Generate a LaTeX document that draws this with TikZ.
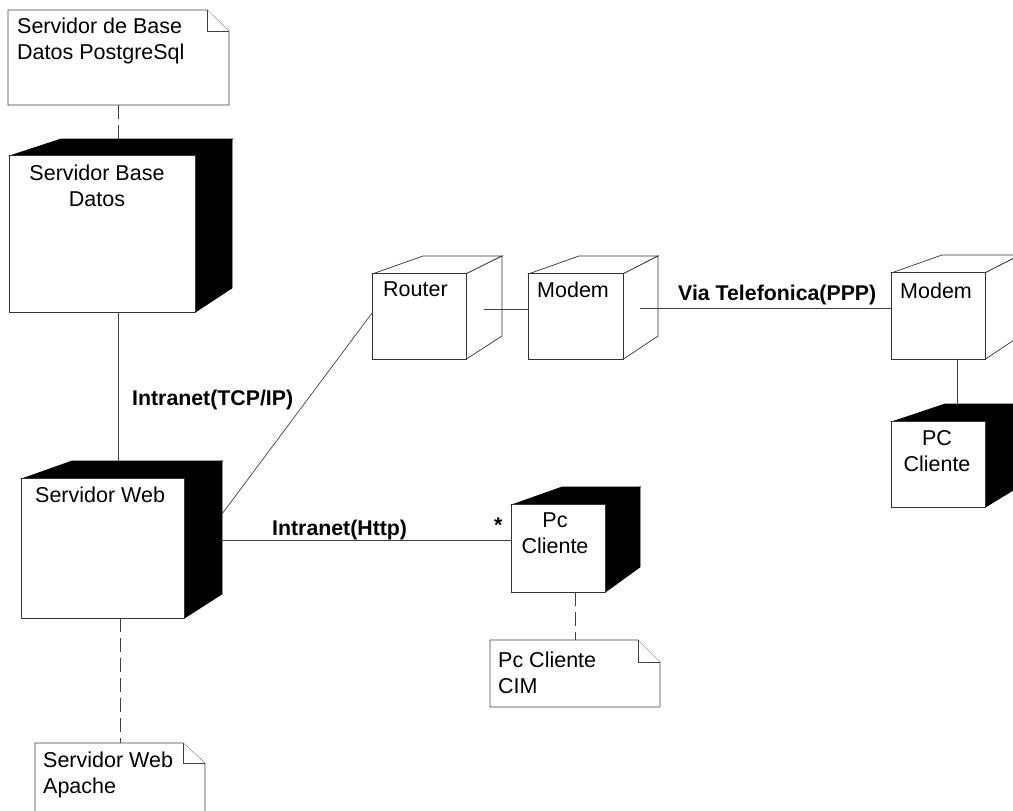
\documentclass[tikz,border=0pt]{standalone}
\usepackage{fontspec}
\setmainfont{Liberation Sans}
\usetikzlibrary{fit,calc}
\tikzset{
  link/.style={draw=black!75, line width=0.7pt},
  notelink/.style={link, dash pattern=on 14pt off 6pt},
  txt/.style={inner sep=0pt, font=\fontsize{21.5}{26}\selectfont, align=left, anchor=north west},
  ctxt/.style={inner sep=0pt, font=\fontsize{21.5}{26}\selectfont, align=center, anchor=north},
  lbl/.style={inner sep=0pt, font=\fontsize{21.3}{26}\selectfont\bfseries, anchor=north west},
  front/.style={fill=white, draw=black!80, line width=0.7pt},
  notebox/.style={fill=white, draw=black!75, line width=0.7pt},
  darkface/.style={fill=black, draw=black, line width=0.7pt},
  lightface/.style={fill=white, draw=black!80, line width=0.7pt}
}
% #1 name, #2-#5 front rect, #6 back top-left x, #7 back top y, #8 back right x, #9 back bottom y
\newcommand\mkcube[9]{%
  \coordinate (#1-btl) at (#6,#7);
  \coordinate (#1-btr) at (#8,#7);
  \coordinate (#1-bbr) at (#8,#9);
  \node[fit={(#2,#3) (#4,#5)}, inner sep=0pt] (#1) {};
  \filldraw[face] (#1.north west) -- (#1-btl) -- (#1-btr) -- (#1.north east) -- cycle;
  \filldraw[face] (#1.north east) -- (#1-btr) -- (#1-bbr) -- (#1.south east) -- cycle;
  \filldraw[front] (#1.north west) rectangle (#1.south east);
}
% #1 name, #2 left, #3 top, #4 right, #5 bottom, #6 fold x, #7 fold y
\newcommand\mknote[7]{%
  \node[fit={(#2,#3) (#4,#5)}, inner sep=0pt] (#1) {};
  \filldraw[notebox] (#2,#3) -- (#6,#3) -- (#4,#7) -- (#4,#5) -- (#2,#5) -- cycle;
  \draw[notebox] (#6,#3) -- (#6,#7) -- (#4,#7);
}
\begin{document}
\begin{tikzpicture}[x=1pt, y=-1pt]
\useasboundingbox (0,0) rectangle (1013,811);
\clip (0,0) rectangle (1013,811);

% notes
\mknote{n1}{8}{10}{229}{105}{207}{31}
\mknote{cim}{490}{640}{660}{707}{638}{662}
\mknote{ap}{35}{743}{205}{830}{183}{763}

% dark cubes
\begin{scope}[face/.style=darkface]
\mkcube{sbd}{10}{156}{195}{312}{61}{139}{232}{288}
\mkcube{sw}{22}{479}{184}{618}{72}{461}{222}{594}
\mkcube{pc}{512}{505}{605}{592}{562}{487}{640}{567}
\mkcube{pc2}{892}{422}{985}{507}{945}{404}{1020}{486}
\end{scope}

% light cubes
\begin{scope}[face/.style=lightface]
\mkcube{rt}{373}{274}{466}{359}{423}{256}{502}{336}
\mkcube{md1}{529}{274}{623}{359}{579}{256}{658}{336}
\mkcube{md2}{892}{273}{985}{359}{942}{255}{1020}{336}
\end{scope}

% connector anchor points on side faces
\coordinate (sw-r1) at (222,514);
\coordinate (sw-r2) at (222,540);
\coordinate (rt-r) at (484,309);
\coordinate (md1-r) at (640,308);
\coordinate (md2-b) at (957,359);

% connectors
\draw[notelink] (n1.south) -- (n1.south |- sbd-btl);
\draw[link] (n1.south |- sbd.south) -- (n1.south |- sw-btl);
\draw[notelink] (ap.north |- sw.south) -- (ap.north);
\draw[link] (sw-r1) -- (rt.west |- 0,312);
\draw[link] (sw-r2) -- (pc.west |- sw-r2);
\draw[link] (rt-r) -- (md1.west |- rt-r);
\draw[link] (md1-r) -- (md2.west |- md1-r);
\draw[link] (md2-b) -- (md2-b |- pc2-btl);
\draw[notelink] (cim.north |- pc.south) -- (cim.north);

% texts
\node[txt] (n1-t) at (17,18) {Servidor de Base\\Datos PostgreSql};
\node[ctxt] (sbd-t) at (97,165) {Servidor Base\\Datos};
\node[txt] (rt-t) at (383,282) {Router};
\node[txt] (md1-t) at (537,282) {Modem};
\node[txt] (md2-t) at (900,283) {Modem};
\node[ctxt] (pc2-t) at (937,430) {PC\\Cliente};
\node[txt] (sw-t) at (35,487) {Servidor Web};
\node[ctxt] (pc-t) at (555,513) {Pc\\Cliente};
\node[txt] (cim-t) at (498,652) {Pc Cliente\\CIM};
\node[txt] (ap-t) at (43,752) {Servidor Web\\Apache};

% connector labels
\node[lbl] (l1) at (132,390) {Intranet(TCP/IP)};
\node[lbl] (l2) at (272,520) {Intranet(Http)};
\node[lbl] (l3) at (678,285) {Via Telefonica(PPP)};
\node[lbl] (l4) at (494,518) {*};
\end{tikzpicture}
\end{document}
